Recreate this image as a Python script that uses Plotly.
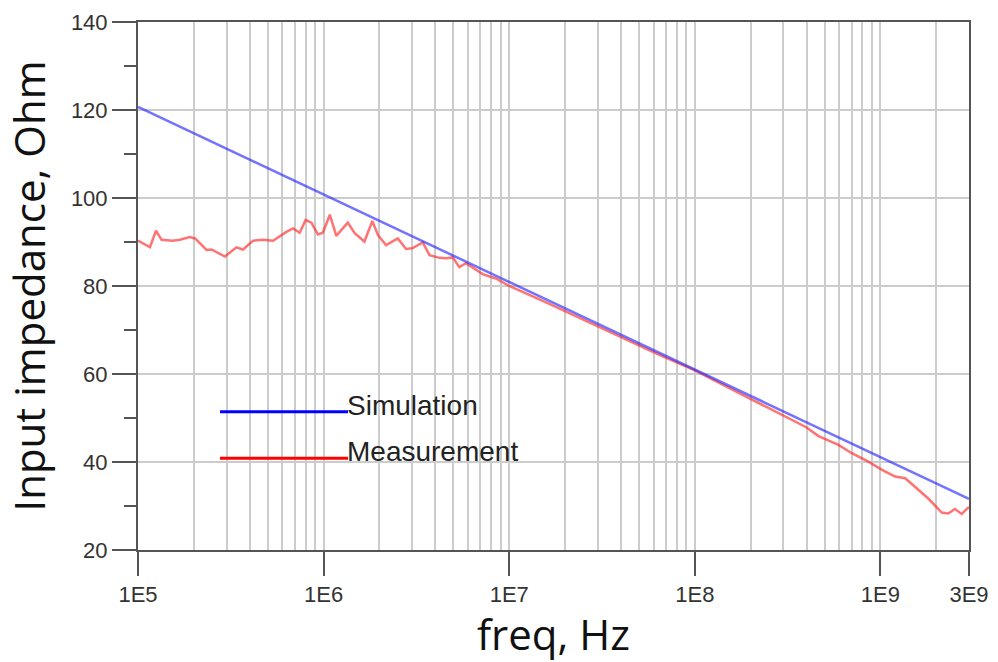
import plotly.graph_objects as go

# ---- data ----
sim_freq = [1.0e5, 1.0e6, 1.0e7, 1.0e8, 1.0e9, 3.0e9]
sim_ohm = [120.7, 100.8, 80.9, 61.0, 41.1, 31.6]

meas_freq = [1.00e5, 1.16e5, 1.25e5, 1.34e5, 1.54e5, 1.68e5, 1.90e5, 2.03e5, 2.34e5, 2.49e5,
             2.94e5, 3.39e5, 3.68e5, 4.17e5, 4.72e5, 5.34e5, 6.30e5, 6.84e5, 7.43e5, 8.00e5,
             8.59e5, 9.32e5, 9.91e5, 1.08e6, 1.17e6, 1.35e6, 1.47e6, 1.66e6, 1.83e6, 1.96e6,
             2.17e6, 2.51e6, 2.78e6, 3.02e6, 3.42e6, 3.72e6, 4.21e6, 4.57e6, 4.96e6, 5.38e6,
             5.85e6, 6.62e6, 7.19e6, 8.48e6, 1.00e7, 1.58e7, 2.51e7, 3.98e7, 6.31e7, 1.00e8,
             1.41e8, 2.00e8, 2.82e8, 3.98e8, 4.64e8, 5.94e8, 7.01e8, 8.61e8, 1.02e9, 1.20e9,
             1.36e9, 1.60e9, 1.81e9, 2.14e9, 2.32e9, 2.52e9, 2.74e9, 3.00e9]
meas_ohm = [90.3, 88.8, 92.6, 90.5, 90.3, 90.5, 91.1, 90.8, 88.2, 88.3,
            86.7, 88.8, 88.3, 90.3, 90.5, 90.3, 92.3, 93.1, 92.1, 95.0,
            94.4, 91.7, 92.1, 96.2, 91.4, 94.4, 92.0, 90.1, 94.8, 91.6,
            89.3, 90.8, 88.4, 88.6, 89.9, 87.0, 86.4, 86.3, 86.5, 84.3,
            85.2, 83.6, 82.7, 81.7, 80.0, 76.3, 72.3, 68.4, 64.5, 60.8,
            57.6, 54.4, 51.2, 47.9, 45.9, 43.9, 42.0, 40.1, 38.2, 36.7,
            36.3, 33.6, 31.7, 28.5, 28.3, 29.3, 28.2, 29.8]

x_tickvals = [1e5, 1e6, 1e7, 1e8, 1e9, 3e9]
x_ticktext = ["1E5", "1E6", "1E7", "1E8", "1E9", "3E9"]
x_minor = [m * 10 ** e for e in range(5, 10) for m in range(2, 10) if m * 10 ** e < 3e9]
y_tickvals = [20, 40, 60, 80, 100, 120, 140]
y_minor = [30, 50, 70, 90, 110, 130]

legend_names = ["Simulation", "Measurement"]

AXIS = "#555555"
GRID = "#cccccc"
TICKFONT = dict(family="Liberation Sans, Arial", size=22, color="#333333")
TITLEFONT = dict(family="Open Sans", size=42, color="#111111")

fig = go.Figure()
fig.add_trace(go.Scatter(x=meas_freq, y=meas_ohm, mode="lines", name=legend_names[1],
                         line=dict(color="rgba(255,40,40,0.65)", width=2.5), showlegend=False))
fig.add_trace(go.Scatter(x=sim_freq, y=sim_ohm, mode="lines", name=legend_names[0],
                         line=dict(color="rgba(40,40,255,0.65)", width=2.5), showlegend=False))

fig.update_xaxes(type="log", range=[5, 9.4771], tickmode="array", tickvals=x_tickvals,
                 ticktext=x_ticktext, ticks="outside", ticklen=24, tickwidth=1.5, tickcolor=AXIS,
                 showline=True, linecolor=AXIS, linewidth=2, mirror=True, automargin=False,
                 showgrid=True, gridcolor=GRID, gridwidth=1.5, zeroline=False,
                 tickfont=TICKFONT,
                 minor=dict(tickmode="array", tickvals=x_minor, showgrid=True,
                            gridcolor=GRID, gridwidth=1.5, ticks=""),
                 title=dict(text="freq, Hz", font=TITLEFONT, standoff=14))
fig.update_yaxes(range=[20, 140], tickmode="array", tickvals=y_tickvals,
                 ticks="outside", ticklen=24, tickwidth=1.5, tickcolor=AXIS,
                 showline=True, linecolor=AXIS, linewidth=2, mirror=True, automargin=False,
                 showgrid=True, gridcolor=GRID, gridwidth=1.5, zeroline=False,
                 tickfont=TICKFONT,
                 minor=dict(tickmode="array", tickvals=y_minor, ticks="outside", ticklen=12,
                            tickwidth=1.5, tickcolor=AXIS, showgrid=False),
                 title=dict(text="Input impedance, Ohm", font=TITLEFONT, standoff=12))

# legend drawn manually
fig.add_shape(type="rect", xref="paper", yref="paper", x0=0.089, x1=0.455, y0=0.155, y1=0.3125,
              fillcolor="white", line=dict(width=0), layer="between")
fig.add_shape(type="line", xref="paper", yref="paper", x0=0.0987, x1=0.2527, y0=0.262, y1=0.262,
              line=dict(color="#0000ff", width=3))
fig.add_shape(type="line", xref="paper", yref="paper", x0=0.0987, x1=0.2527, y0=0.1737, y1=0.1737,
              line=dict(color="#ff0000", width=3))
fig.add_annotation(xref="paper", yref="paper", x=0.2527, y=0.2746, text=legend_names[0],
                   showarrow=False, xanchor="left", yanchor="middle", xshift=-3,
                   font=dict(family="Liberation Sans, Arial", size=28, color="#222222"))
fig.add_annotation(xref="paper", yref="paper", x=0.2527, y=0.186, text=legend_names[1],
                   showarrow=False, xanchor="left", yanchor="middle", xshift=-3,
                   font=dict(family="Liberation Sans, Arial", size=28, color="#222222"))

fig.update_layout(width=998, height=662, margin=dict(l=138, r=29, t=22, b=112),
                  plot_bgcolor="white", paper_bgcolor="white", showlegend=False)
fig.write_html("out.html")
